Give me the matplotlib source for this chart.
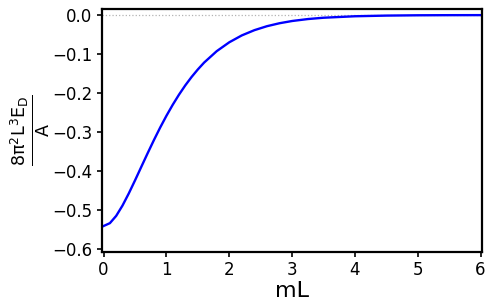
import numpy as np
import matplotlib
matplotlib.use("Agg")
import matplotlib.pyplot as plt

plt.rcParams['mathtext.default'] = 'regular'

# valeurs (energie normalisee vs mL)
mL = [0.0, 0.1, 0.2, 0.3, 0.4, 0.5, 0.6, 0.7, 0.8, 0.9,
      1.0, 1.1, 1.2, 1.3, 1.4, 1.5, 1.6, 1.8, 2.0, 2.2,
      2.4, 2.6, 2.8, 3.0, 3.25, 3.5, 4.0, 4.5, 5.0, 5.5, 6.0]
E_D = [-0.5412, -0.5339, -0.5152, -0.4889, -0.4578, -0.4241, -0.3893, -0.3547, -0.3209, -0.2886,
       -0.2583, -0.2301, -0.2041, -0.1803, -0.1588, -0.1394, -0.1218, -0.0926, -0.0698, -0.0521,
       -0.0387, -0.0285, -0.0209, -0.0152, -0.0102, -0.0068, -0.0030, -0.0013, -0.0005, -0.0002, -0.0001]

fig = plt.figure(figsize=(4.93, 3.08), dpi=100)
ax = fig.add_axes([0.207, 0.183, 0.771, 0.787])

ax.axhline(0.0, color='0.7', linestyle=':', linewidth=0.9)
ax.plot(mL, E_D, color='blue', linewidth=1.7)

ax.set_xlim(-0.025, 6.025)
ax.set_ylim(-0.607, 0.015)
ax.set_xticks([0, 1, 2, 3, 4, 5, 6])
ax.set_yticks([0.0, -0.1, -0.2, -0.3, -0.4, -0.5, -0.6])
ax.tick_params(labelsize=12, width=1.2, length=3.5)
for s in ax.spines.values():
    s.set_linewidth(1.6)

ax.set_xlabel('mL', fontsize=16, labelpad=1)
ax.set_ylabel(r'$\frac{8\pi^2 L^3 E_D}{A}$', fontsize=18, labelpad=0)

fig.savefig('out.png', dpi=100)
